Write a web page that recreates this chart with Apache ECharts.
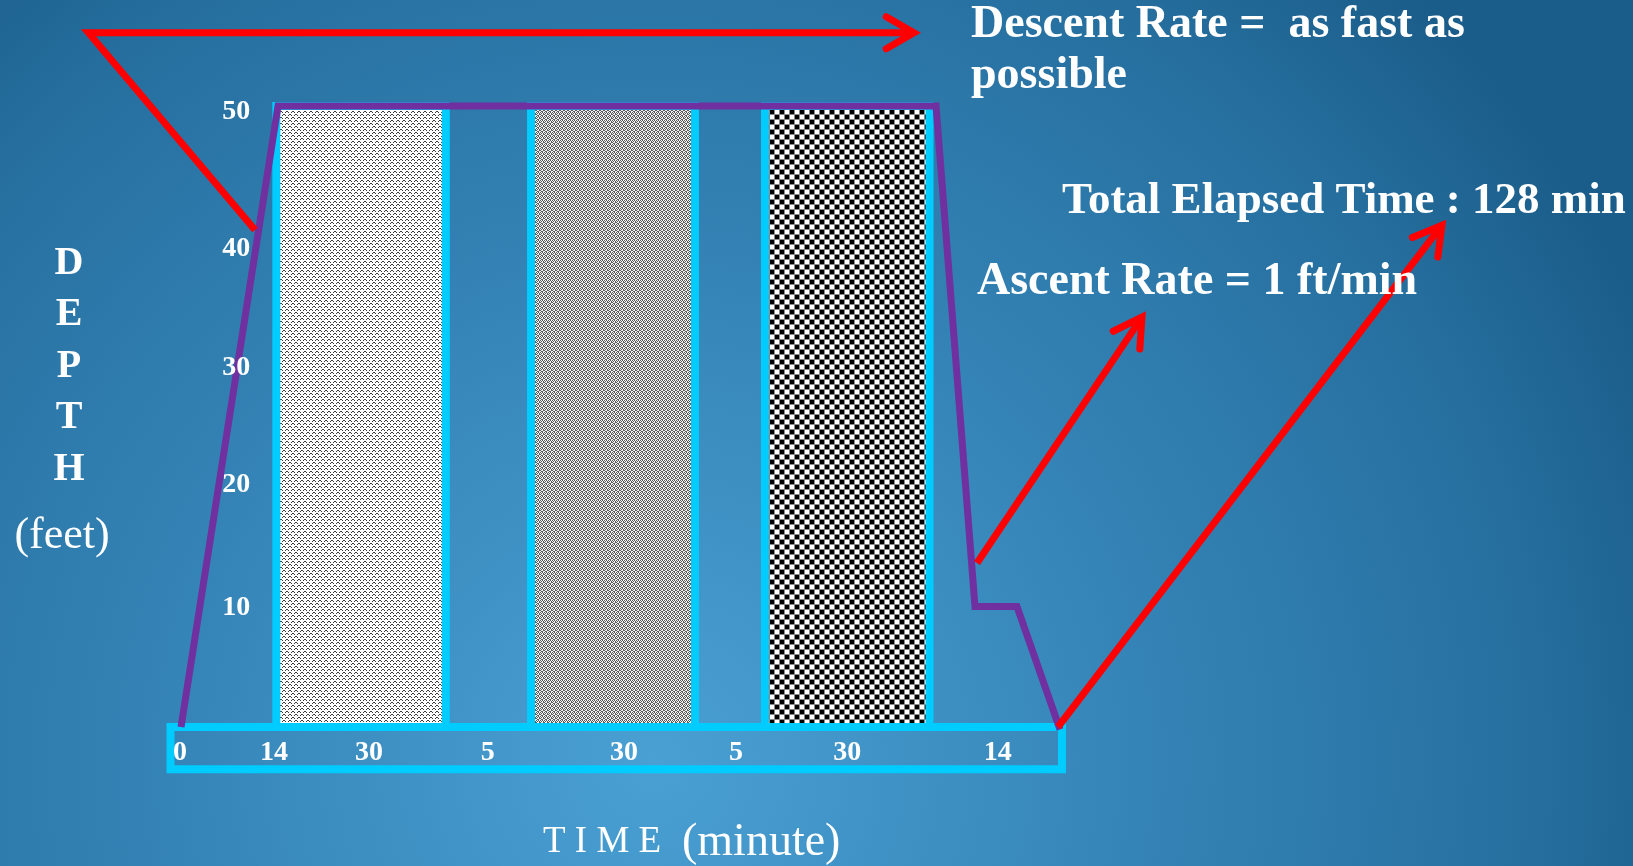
<!DOCTYPE html>
<html><head><meta charset="utf-8">
<script src="https://cdn.jsdelivr.net/npm/echarts@6/dist/echarts.min.js"></script>
<style>html,body{margin:0;padding:0;background:#2a78a8;overflow:hidden}#chart{width:1633px;height:866px}</style>
</head><body><div id="chart"></div>
<script>
// ---- data ----
const depthTickLabels = ['10', '20', '30', '40', '50'];
const depthTickValues = [9.6, 19.5, 28.9, 38.5, 49.5];
const timeTickLabels = ['0', '14', '30', '5', '30', '5', '30', '14'];
const timeTickValues = [1.07, 11.6, 22.27, 35.6, 50.87, 63.43, 75.9, 92.8];
const profileTime = [1.18, 12.06, 85.87, 90.24, 94.95, 99.78];
const profileDepth = [0, 50, 50, 9.7, 9.7, -0.2];
const stageStart = [11.87, 40.44, 66.68];
const stageEnd = [30.88, 58.83, 85.14];
const stageDepth = [50, 50, 50];
const frameTime = [0, 100];
const frameDepth = [0, -3.4];
const arrowTime = [[9.48, -9.2, 83.39], [90.47, 108.97], [99.55, 142.62]];
const arrowDepth = [[40.02, 55.9, 55.9], [13.2, 33.0], [0, 40.4]];

// ---- fill patterns ----
function makePattern(rows, colors) {
  const h = rows.length, w = rows[0].length;
  const c = document.createElement('canvas');
  c.width = w; c.height = h;
  const ctx = c.getContext('2d');
  for (let y = 0; y < h; y++) for (let x = 0; x < w; x++) {
    ctx.fillStyle = colors[rows[y][x]];
    ctx.fillRect(x, y, 1, 1);
  }
  return c;
}
const patterns = [
  makePattern([
    '.##...',
    '#..#..',
    '......',
    '....##',
    '#..#..',
    '......'
  ], {'#': '#3a3a3a', '.': '#ffffff'}),
  makePattern([
    '#.#.',
    '.#.#',
    '#..#',
    '.##.'
  ], {'#': '#5a5a5a', '.': '#f2f2f2'}),
  makePattern([
    '####g....g',
    '####g....g',
    '####g....g',
    '####g....g',
    'gggggggggg',
    '....g####g',
    '....g####g',
    '....g####g',
    '....g####g',
    'gggggggggg'
  ], {'#': '#000000', 'g': '#8a8a8a', '.': '#ffffff'})
];

function nearestLabel(values, labels, v) {
  let best = 0;
  for (let i = 1; i < values.length; i++) if (Math.abs(values[i] - v) < Math.abs(values[best] - v)) best = i;
  return labels[best];
}

const chart = echarts.init(document.getElementById('chart'), null, {renderer: 'canvas'});
const serif = '"Liberation Serif", "DejaVu Serif", serif';
const tickLabelStyle = {color: '#ffffff', fontSize: 28, fontWeight: 'bold', fontFamily: serif};

chart.setOption({
  animation: false,
  backgroundColor: {
    type: 'radial', x: 0.4, y: 0.88, r: 1.25,
    colorStops: [
      {offset: 0, color: '#4aa0d3'},
      {offset: 0.45, color: '#3584b7'},
      {offset: 0.8, color: '#2670a0'},
      {offset: 1, color: '#1b5d8a'}
    ]
  },
  grid: {left: 81.35, right: 125.25, top: 31.48, bottom: 96.77, containLabel: false, outerBoundsMode: 'none'},
  xAxis: {
    type: 'value', min: -10, max: 150, z: 10,
    axisLine: {show: false}, axisTick: {show: false}, splitLine: {show: false},
    axisLabel: Object.assign({
      inside: true, margin: 16, verticalAlign: 'middle',
      customValues: timeTickValues,
      formatter: v => nearestLabel(timeTickValues, timeTickLabels, v)
    }, tickLabelStyle)
  },
  yAxis: {
    type: 'value', min: -3.4, max: 56, z: 10,
    axisLine: {show: false}, axisTick: {show: false}, splitLine: {show: false},
    axisLabel: Object.assign({
      inside: true, margin: 169, align: 'right',
      customValues: depthTickValues,
      formatter: v => nearestLabel(depthTickValues, depthTickLabels, v)
    }, tickLabelStyle)
  },
  series: [
    {
      type: 'custom', name: 'stages', z: 2, clip: false,
      encode: {x: [0, 1], y: 2},
      data: stageStart.map((s, i) => [s, stageEnd[i], stageDepth[i]]),
      renderItem: (params, api) => {
        const tl = api.coord([api.value(0), api.value(2)]);
        const br = api.coord([api.value(1), 0]);
        return {
          type: 'rect',
          shape: {x: tl[0], y: tl[1], width: br[0] - tl[0], height: br[1] - tl[1]},
          style: {fill: {image: patterns[params.dataIndex], repeat: 'repeat'}, stroke: '#00CCFF', lineWidth: 8}
        };
      }
    },
    {
      type: 'custom', name: 'timeline', z: 3, clip: false,
      encode: {x: [0, 1], y: [2, 3]},
      data: [[frameTime[0], frameTime[1], frameDepth[0], frameDepth[1]]],
      renderItem: (params, api) => {
        const tl = api.coord([api.value(0), api.value(2)]);
        const br = api.coord([api.value(1), api.value(3)]);
        return {
          type: 'rect',
          shape: {x: tl[0], y: tl[1], width: br[0] - tl[0], height: br[1] - tl[1]},
          style: {fill: null, stroke: '#00CCFF', lineWidth: 8}
        };
      }
    },
    {
      type: 'line', name: 'profile', z: 4, clip: false,
      symbol: 'none',
      lineStyle: {color: '#7030A0', width: 7, join: 'miter', miterLimit: 10},
      data: profileTime.map((t, i) => [t, profileDepth[i]])
    },
    {
      type: 'custom', name: 'arrows', z: 5, clip: false,
      data: arrowTime.map((a, i) => [a[a.length - 1], arrowDepth[i][arrowDepth[i].length - 1], i]),
      renderItem: (params, api) => {
        const i = params.dataIndex;
        const pts = arrowTime[i].map((t, k) => api.coord([t, arrowDepth[i][k]]));
        const n = pts.length, tip = pts[n - 1], prev = pts[n - 2];
        const ang = Math.atan2(tip[1] - prev[1], tip[0] - prev[0]);
        const L = 32, a = 30 * Math.PI / 180;
        const h1 = [tip[0] - L * Math.cos(ang - a), tip[1] - L * Math.sin(ang - a)];
        const h2 = [tip[0] - L * Math.cos(ang + a), tip[1] - L * Math.sin(ang + a)];
        return {
          type: 'group',
          children: [
            {type: 'polyline', shape: {points: pts}, style: {stroke: '#FF0000', lineWidth: 7, fill: null, lineJoin: 'miter'}},
            {type: 'polyline', shape: {points: [h1, tip, h2]}, style: {stroke: '#FF0000', lineWidth: 7, fill: null, lineCap: 'round', lineJoin: 'miter'}}
          ]
        };
      }
    }
  ],
  graphic: [
    {type: 'text', x: 971, y: -0.5, z: 10, style: {text: 'Descent Rate =  as fast as\npossible', font: 'bold 46px ' + serif, lineHeight: 51, fill: '#ffffff', align: 'left', textAlign: 'left', verticalAlign: 'top', textVerticalAlign: 'top'}},
    {type: 'text', x: 1062, y: 201, z: 10, style: {text: 'Total Elapsed Time : 128 min', font: 'bold 45px ' + serif, fill: '#ffffff', align: 'left', textAlign: 'left', verticalAlign: 'middle', textVerticalAlign: 'middle'}},
    {type: 'text', x: 977, y: 282, z: 10, style: {text: 'Ascent Rate = 1 ft/min', font: 'bold 46px ' + serif, fill: '#ffffff', align: 'left', textAlign: 'left', verticalAlign: 'middle', textVerticalAlign: 'middle'}},
    {type: 'text', x: 69, y: 237.5, z: 10, style: {text: 'D\nE\nP\nT\nH', font: 'bold 40px ' + serif, lineHeight: 51.5, fill: '#ffffff', align: 'center', textAlign: 'center', verticalAlign: 'top', textVerticalAlign: 'top'}},
    {type: 'text', x: 62, y: 536, z: 10, style: {text: '(feet)', font: '44px ' + serif, fill: '#ffffff', align: 'center', textAlign: 'center', verticalAlign: 'middle', textVerticalAlign: 'middle'}},
    {type: 'text', x: 543, y: 842.5, z: 10, style: {text: 'T I M E', font: '37px ' + serif, fill: '#ffffff', align: 'left', textAlign: 'left', verticalAlign: 'middle', textVerticalAlign: 'middle'}},
    {type: 'text', x: 682, y: 842.7, z: 10, style: {text: '(minute)', font: '46px ' + serif, fill: '#ffffff', align: 'left', textAlign: 'left', verticalAlign: 'middle', textVerticalAlign: 'middle'}}
  ]
});
</script>
</body></html>
